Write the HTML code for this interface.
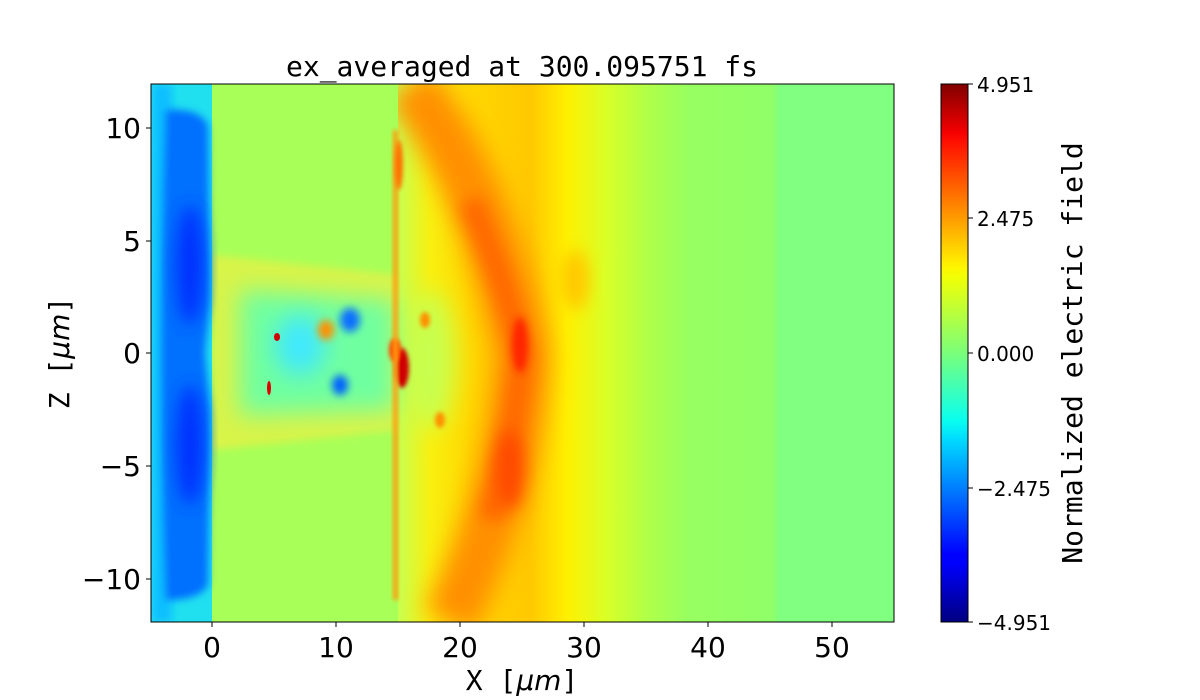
<!DOCTYPE html>
<html><head><meta charset="utf-8"><style>
html,body{margin:0;padding:0;background:#fff;}
svg{display:block;}
</style></head><body>
<svg width="1200" height="700" viewBox="0 0 1200 700" xmlns="http://www.w3.org/2000/svg">
<defs>
<clipPath id="pc"><rect x="151" y="84" width="743" height="538"/></clipPath>
<filter id="b20" x="-50%" y="-50%" width="200%" height="200%"><feGaussianBlur stdDeviation="20"/></filter>
<filter id="b12" x="-50%" y="-50%" width="200%" height="200%"><feGaussianBlur stdDeviation="12"/></filter>
<filter id="b8" x="-50%" y="-50%" width="200%" height="200%"><feGaussianBlur stdDeviation="8"/></filter>
<filter id="b4" x="-50%" y="-50%" width="200%" height="200%"><feGaussianBlur stdDeviation="4"/></filter>
<filter id="b2" x="-50%" y="-50%" width="200%" height="200%"><feGaussianBlur stdDeviation="2"/></filter>
<linearGradient id="rg" gradientUnits="userSpaceOnUse" x1="398" y1="0" x2="800" y2="0">
<stop offset="0" stop-color="#c8ff50"/>
<stop offset="0.08" stop-color="#f8f010"/>
<stop offset="0.18" stop-color="#ffd800"/>
<stop offset="0.33" stop-color="#ffc800"/>
<stop offset="0.42" stop-color="#fff000"/>
<stop offset="0.52" stop-color="#d8ff28"/>
<stop offset="0.62" stop-color="#b0ff48"/>
<stop offset="0.72" stop-color="#98ff60"/>
<stop offset="0.93" stop-color="#90ff68"/>
<stop offset="0.95" stop-color="#80ff80"/>
<stop offset="1" stop-color="#80ff80"/>
</linearGradient>
<linearGradient id="jet" x1="0" y1="1" x2="0" y2="0">
<stop offset="0" stop-color="#000080"/>
<stop offset="0.11" stop-color="#0000ff"/>
<stop offset="0.125" stop-color="#0000ff"/>
<stop offset="0.34" stop-color="#00dbff"/>
<stop offset="0.375" stop-color="#0affef"/>
<stop offset="0.5" stop-color="#7aff7a"/>
<stop offset="0.64" stop-color="#f0ff05"/>
<stop offset="0.66" stop-color="#fff500"/>
<stop offset="0.89" stop-color="#ff1200"/>
<stop offset="0.91" stop-color="#f50000"/>
<stop offset="1" stop-color="#800000"/>
</linearGradient>
</defs>
<g clip-path="url(#pc)">
<rect x="151" y="84" width="743" height="538" fill="#80ff80"/>
<rect x="398" y="84" width="500" height="538" fill="url(#rg)"/>
<path d="M410 84 Q490 190 522 353 Q515 490 450 622" fill="none" stroke="#ff9000" stroke-width="55" filter="url(#b12)"/>
<path d="M470 200 Q505 280 522 353 Q515 440 490 520" fill="none" stroke="#ff6800" stroke-width="24" filter="url(#b8)"/>
<ellipse cx="520" cy="345" rx="8" ry="28" fill="#ff2000" filter="url(#b4)"/>
<ellipse cx="510" cy="470" rx="14" ry="40" fill="#ff4800" filter="url(#b8)"/>
<ellipse cx="575" cy="280" rx="14" ry="30" fill="#ffc800" filter="url(#b8)"/>
<ellipse cx="430" cy="360" rx="25" ry="70" fill="#c8ff50" filter="url(#b12)"/>
<ellipse cx="425" cy="320" rx="5" ry="8" fill="#ff9000" filter="url(#b2)"/>
<ellipse cx="440" cy="420" rx="5" ry="8" fill="#ff9000" filter="url(#b2)"/>
<rect x="212" y="84" width="186" height="538" fill="#a8ff58"/>
<path d="M212 255 L398 275 L398 430 L212 450 Z" fill="#d8f448" filter="url(#b4)"/>
<path d="M240 290 L395 300 L395 410 L240 415 Z" fill="#70ffa0" filter="url(#b12)"/>
<ellipse cx="350" cy="320" rx="10" ry="12" fill="#1070ff" filter="url(#b4)"/>
<ellipse cx="340" cy="385" rx="8" ry="10" fill="#0060ff" filter="url(#b4)"/>
<ellipse cx="300" cy="345" rx="25" ry="30" fill="#40e8ff" filter="url(#b12)"/>
<ellipse cx="277" cy="337" rx="3" ry="4" fill="#d00000"/>
<ellipse cx="269" cy="388" rx="2" ry="7" fill="#e00000"/>
<ellipse cx="326" cy="330" rx="8" ry="10" fill="#ff9000" filter="url(#b4)"/>
<ellipse cx="402" cy="368" rx="7" ry="20" fill="#d00000" filter="url(#b2)"/>
<ellipse cx="395" cy="350" rx="6" ry="12" fill="#ff4000" filter="url(#b2)"/>
<rect x="393" y="130" width="5" height="470" fill="#ffa010" filter="url(#b2)"/>
<ellipse cx="399" cy="165" rx="4" ry="25" fill="#ff7000" filter="url(#b2)"/>
<rect x="151" y="84" width="61" height="538" fill="#20e0f0"/>
<rect x="152" y="84" width="20" height="538" fill="#10c0ff" filter="url(#b4)"/>
<path d="M166 110 Q200 108 208 125 L210 300 L205 353 L210 410 L208 585 Q200 600 166 600 Q158 353 166 110 Z" fill="#0070ff" filter="url(#b4)"/>
<ellipse cx="190" cy="265" rx="14" ry="60" fill="#0030ff" filter="url(#b8)"/>
<ellipse cx="190" cy="445" rx="14" ry="60" fill="#0030ff" filter="url(#b8)"/>
</g>
<rect x="151" y="84" width="743" height="538" fill="none" stroke="#000" stroke-width="1"/>
<g stroke="#000" stroke-width="1">
<line x1="212" y1="622" x2="212" y2="627"/><line x1="336" y1="622" x2="336" y2="627"/>
<line x1="460" y1="622" x2="460" y2="627"/><line x1="584" y1="622" x2="584" y2="627"/>
<line x1="708" y1="622" x2="708" y2="627"/><line x1="832" y1="622" x2="832" y2="627"/>
<line x1="146" y1="128" x2="151" y2="128"/><line x1="146" y1="241" x2="151" y2="241"/>
<line x1="146" y1="353" x2="151" y2="353"/><line x1="146" y1="466" x2="151" y2="466"/>
<line x1="146" y1="579" x2="151" y2="579"/>
</g>
<g font-family="DejaVu Sans, Liberation Sans, sans-serif" font-size="28" fill="#000">
<g text-anchor="middle">
<text x="212" y="657">0</text><text x="336" y="657">10</text><text x="460" y="657">20</text>
<text x="584" y="657">30</text><text x="708" y="657">40</text><text x="832" y="657">50</text>
</g>
<g text-anchor="end">
<text x="141" y="138">10</text><text x="141" y="251">5</text><text x="141" y="363">0</text>
<text x="141" y="476">−5</text><text x="141" y="589">−10</text>
</g>
</g>
<g font-family="DejaVu Sans Mono, Liberation Mono, monospace" font-size="28" fill="#000">
<text x="522" y="76" text-anchor="middle">ex_averaged at 300.095751 fs</text>
<text x="522" y="690" text-anchor="middle">X [<tspan font-family="DejaVu Sans, sans-serif" font-style="italic">μm</tspan>]</text>
<text transform="translate(69,353) rotate(-90)" text-anchor="middle">Z [<tspan font-family="DejaVu Sans, sans-serif" font-style="italic">μm</tspan>]</text>
<text transform="translate(1082,353) rotate(-90)" text-anchor="middle">Normalized electric field</text>
</g>
<rect x="941" y="84" width="27" height="538" fill="url(#jet)" stroke="#000" stroke-width="1"/>
<g stroke="#000"><line x1="968" y1="84" x2="973" y2="84"/><line x1="968" y1="218" x2="973" y2="218"/><line x1="968" y1="353" x2="973" y2="353"/><line x1="968" y1="488" x2="973" y2="488"/><line x1="968" y1="622" x2="973" y2="622"/></g>
<g font-family="DejaVu Sans, Liberation Sans, sans-serif" font-size="20" fill="#000">
<text x="977" y="92">4.951</text><text x="977" y="226">2.475</text><text x="977" y="361">0.000</text>
<text x="977" y="496">−2.475</text><text x="977" y="630">−4.951</text>
</g>
</svg>
</body></html>
